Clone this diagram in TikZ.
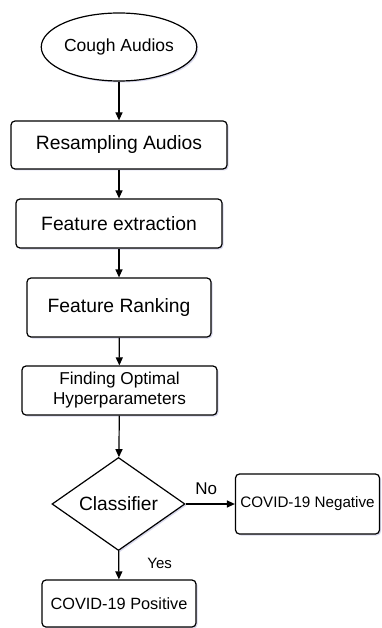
\documentclass[tikz,border=0pt]{standalone}
\usepackage{fontspec}
\setmainfont{Liberation Sans}
\usetikzlibrary{arrows.meta,positioning,shapes.geometric,shadows}
\tikzset{every shadow/.style={fill=black!50!blue!35,opacity=0.45,shadow xshift=1.5pt,shadow yshift=-1.5pt}}
\tikzset{stepbox/.style={rectangle,rounded corners=4pt,draw=black,line width=1.2pt,fill=white,drop shadow,inner sep=0pt,align=center}}
\tikzset{flow/.style={-{Triangle[length=8pt,width=7pt]},line width=1.2pt}}

\begin{document}
\begin{tikzpicture}[x=1pt,y=-1pt]
\useasboundingbox (0,0) rectangle (381,628);
% \draw[help lines,step=20] (0,0) grid (381,628);
\node (cough) [ellipse,draw=black,line width=1.2pt,fill=white,drop shadow,inner sep=0pt,minimum width=123pt,minimum height=68pt,font=\fontsize{17.5}{20}\selectfont] at (119,47) {Cough Audios};
\node (resamp) [stepbox,minimum width=216pt,minimum height=48pt,font=\fontsize{19.3}{22}\selectfont] at (119,145) {Resampling Audios};
\node (featx) [stepbox,minimum width=206pt,minimum height=49pt,font=\fontsize{19.3}{22}\selectfont] at (119,223.5) {Feature extraction};
\node (rank) [stepbox,minimum width=184pt,minimum height=59pt,font=\fontsize{19.3}{22}\selectfont] at (119,307.5) {Feature Ranking};
\node (hyper) [stepbox,minimum width=195pt,minimum height=49pt,font=\fontsize{17.2}{20}\selectfont] at (119.5,390.5) {Finding Optimal\\Hyperparameters};
\node (clf) [diamond,draw=black,line width=1.2pt,fill=white,drop shadow,inner sep=0pt,minimum width=133pt,minimum height=86pt,font=\fontsize{19.2}{22}\selectfont] at (118.5,504) {Classifier};
\node (neg) [stepbox,minimum width=144pt,minimum height=60pt,font=\fontsize{15.2}{18}\selectfont] at (307.5,504) {COVID-19 Negative};
\node (pos) [stepbox,minimum width=154pt,minimum height=47pt,font=\fontsize{16.3}{19}\selectfont] at (119,603.5) {COVID-19 Positive};
%
\path[flow](cough) edge (resamp);
\path[flow](resamp) edge (featx);
\path[flow](featx) edge (rank);
\path[flow](rank) edge (hyper);
\path[flow](hyper) edge (clf);
\path[flow](clf) edge node[pos=0.42,above=9pt,inner sep=0pt,font=\fontsize{17}{20}\selectfont] {No} (neg);
\path[flow](clf) edge node[pos=0.45,right=28pt,inner sep=0pt,font=\fontsize{15}{18}\selectfont] {Yes} (pos);
\end{tikzpicture}
\end{document}
